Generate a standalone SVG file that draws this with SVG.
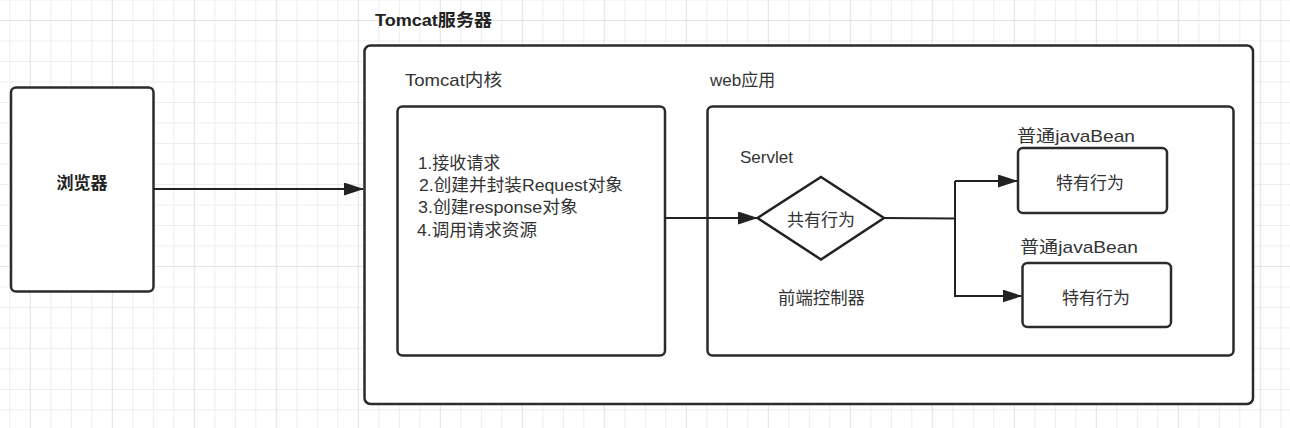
<svg xmlns="http://www.w3.org/2000/svg" width="1290" height="428" viewBox="0 0 1290 428">
  <defs>
    <pattern id="grid" x="9.3" y="20" width="20.5" height="20.5" patternUnits="userSpaceOnUse">
      <path d="M0,0 V20.5 M0,0 H20.5" fill="none" stroke="#e9e9e9" stroke-width="1.6"/>
    </pattern>
    <pattern id="gridMajor" x="29.8" y="20" width="82" height="82" patternUnits="userSpaceOnUse">
      <path d="M0,0 V82 M0,0 H82" fill="none" stroke="#e2e2e2" stroke-width="1.6"/>
    </pattern>
    <marker id="arrow" markerUnits="userSpaceOnUse" markerWidth="20" markerHeight="13" refX="19" refY="6.5" orient="auto">
      <path d="M0,0 L20,6.5 L0,13 Z" fill="#222"/>
    </marker>
  </defs>
  <style>
    text { font-family: "Liberation Sans", "Noto Sans CJK SC", sans-serif; font-size: 17px; fill: #333; }
    .bold { font-weight: bold; fill: #222; }
    .box { fill: #fff; stroke: #2b2b2b; stroke-width: 2.5; }
    .conn { fill: none; stroke: #222; stroke-width: 2; }
    .mid { text-anchor: middle; }
  </style>
  <rect width="1290" height="428" fill="#fff"/>
  <rect width="1290" height="428" fill="url(#grid)"/>
  <rect width="1290" height="428" fill="url(#gridMajor)"/>

  <g id="tomcat-server">
    <rect class="box" x="364.5" y="45.5" width="888.5" height="358.5" rx="6"/>
    <text class="bold" x="375" y="26" textLength="117" lengthAdjust="spacingAndGlyphs">Tomcat服务器</text>
  </g>

  <g id="browser">
    <rect class="box" x="11" y="87.5" width="142.5" height="204" rx="5"/>
    <text class="bold mid" x="82" y="189">浏览器</text>
  </g>

  <g id="tomcat-kernel">
    <text x="405" y="86" textLength="97" lengthAdjust="spacingAndGlyphs">Tomcat内核</text>
    <rect class="box" x="397.5" y="106.5" width="267.5" height="249" rx="5"/>
    <text x="418" y="168.5">1.接收请求</text>
    <text x="419" y="191" textLength="204" lengthAdjust="spacingAndGlyphs">2.创建并封装Request对象</text>
    <text x="418" y="213" textLength="160" lengthAdjust="spacingAndGlyphs">3.创建response对象</text>
    <text x="417" y="235.5" textLength="120" lengthAdjust="spacingAndGlyphs">4.调用请求资源</text>
  </g>

  <g id="web-app">
    <text x="710" y="86">web应用</text>
    <rect class="box" x="707.5" y="106.5" width="526" height="249" rx="5"/>
  </g>

  <g id="servlet">
    <text x="740" y="163">Servlet</text>
    <polygon points="757.5,218 821,177 884,218 821,259.5" fill="#fff" stroke="#222" stroke-width="2.5" stroke-linejoin="miter"/>
    <text class="mid" x="821" y="225.5">共有行为</text>
    <text x="778" y="303.5" textLength="87" lengthAdjust="spacingAndGlyphs">前端控制器</text>
  </g>

  <g id="bean1">
    <text x="1017" y="141.5" textLength="118" lengthAdjust="spacingAndGlyphs">普通javaBean</text>
    <rect class="box" x="1018" y="148" width="149" height="65" rx="5"/>
    <text class="mid" x="1090" y="189">特有行为</text>
  </g>

  <g id="bean2">
    <text x="1020" y="253" textLength="118" lengthAdjust="spacingAndGlyphs">普通javaBean</text>
    <rect class="box" x="1022.5" y="263" width="148.5" height="64" rx="5"/>
    <text class="mid" x="1096" y="304">特有行为</text>
  </g>

  <g id="connectors">
    <line class="conn" x1="153.5" y1="189" x2="363" y2="189" marker-end="url(#arrow)"/>
    <line class="conn" x1="665" y1="218" x2="757" y2="218" marker-end="url(#arrow)"/>
    <polyline class="conn" points="884,218 955,218.5"/>
    <polyline class="conn" points="955,181 955,296 1021.5,296" marker-end="url(#arrow)"/>
    <line class="conn" x1="955" y1="181" x2="1017" y2="181" marker-end="url(#arrow)"/>
  </g>
</svg>
